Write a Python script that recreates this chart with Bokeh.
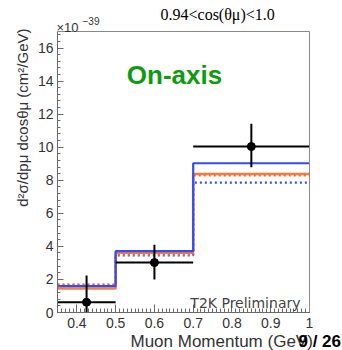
import math
from bokeh.plotting import figure
from bokeh.models import Range1d, FixedTicker, Label, LinearAxis
from bokeh.embed import file_html
from bokeh.resources import INLINE

# ---- data ----
bin_edges = [0.35, 0.5, 0.7, 1.0]
blue_solid = [1.60, 3.71, 9.03]
orange_solid = [1.45, 3.61, 8.38]
orange_dotted = [1.71, 3.50, 8.29]
blue_dotted = [1.65, 3.45, 7.86]
data_x = [0.425, 0.6, 0.85]
data_y = [0.62, 3.02, 10.04]
data_err_up = [1.62, 1.08, 1.38]
data_err_dn = [1.62, 1.02, 1.25]
x_ticks = [0.4, 0.5, 0.6, 0.7, 0.8, 0.9, 1.0]
x_tick_labels = ["0.4", "0.5", "0.6", "0.7", "0.8", "0.9", "1"]
y_ticks = [0, 2, 4, 6, 8, 10, 12, 14, 16]
x_lo, x_hi = 0.35, 1.0
y_lo, y_hi = 0.0, 17.0

# frame occupies page x 57..309, y 31..312 inside a 342x350 canvas
W, H = 342, 350
FL, FR, FT, FB = 57, 309, 31, 312
sx = (FR - FL) / (x_hi - x_lo)
sy = (FB - FT) / (y_hi - y_lo)
x_range = Range1d(x_lo - FL / sx, x_hi + (W - FR) / sx)
y_range = Range1d(y_lo - (H - FB) / sy, y_hi + FT / sy)

p = figure(width=W, height=H, output_backend="svg", toolbar_location=None,
           x_range=x_range, y_range=y_range, x_axis_location=None, y_axis_location=None,
           min_border=0)
p.background_fill_color = "white"
p.border_fill_color = "white"
p.outline_line_color = None
p.grid.visible = False

AX = "#6a6a6a"
minor_x = [round(0.35 + 0.01 * i, 2) for i in range(66)]
minor_y = [round(0.4 * i, 2) for i in range(43)]

xaxis = LinearAxis(fixed_location=y_lo, bounds=(x_lo, x_hi),
                   ticker=FixedTicker(ticks=x_ticks, minor_ticks=minor_x),
                   major_label_overrides={t: l for t, l in zip(x_ticks, x_tick_labels)})
yaxis = LinearAxis(fixed_location=x_lo, bounds=(y_lo, y_hi),
                   ticker=FixedTicker(ticks=y_ticks, minor_ticks=minor_y))
for ax in (xaxis, yaxis):
    ax.axis_line_color = AX
    ax.major_tick_line_color = AX
    ax.minor_tick_line_color = AX
    ax.major_tick_out = 0
    ax.minor_tick_out = 0
    ax.major_label_text_font = "Liberation Sans"
    ax.major_label_text_font_size = "14px"
    ax.major_label_text_color = "#333333"
xaxis.major_tick_in = 8
xaxis.minor_tick_in = 4
yaxis.major_tick_in = 6
yaxis.minor_tick_in = 3
xaxis.major_label_standoff = 5
yaxis.major_label_standoff = 4
p.add_layout(xaxis, "below")
p.add_layout(yaxis, "left")

# top and right frame edges
topaxis = LinearAxis(fixed_location=y_hi, bounds=(x_lo, x_hi), ticker=FixedTicker(ticks=[]),
                     major_label_text_font_size="0px", axis_line_color="#8a8a8a",
                     major_tick_line_color=None, minor_tick_line_color=None)
rightaxis = LinearAxis(fixed_location=x_hi, bounds=(y_lo, y_hi), ticker=FixedTicker(ticks=[]),
                       major_label_text_font_size="0px", axis_line_color="#8a8a8a",
                       major_tick_line_color=None, minor_tick_line_color=None)
p.add_layout(topaxis, "above")
p.add_layout(rightaxis, "right")

# histograms
def step_vals(v):
    return list(v) + [v[-1]]

p.step(bin_edges, step_vals(blue_dotted), mode="after", line_color="#2f4ff5",
       line_width=2.2, line_dash="2 3")
p.step(bin_edges, step_vals(orange_solid), mode="after", line_color="#ff7a3a", line_width=2.5)
p.step(bin_edges, step_vals(orange_dotted), mode="after", line_color="#f06a40",
       line_width=2.2, line_dash="2 3")
p.step(bin_edges, step_vals(blue_solid), mode="after", line_color="#2f4ff5", line_width=2.2)

# data points with errors (clipped at the frame bottom)
lefts = bin_edges[:-1]
rights = bin_edges[1:]
p.segment(x0=lefts, y0=data_y, x1=rights, y1=data_y, line_color="black", line_width=2)
p.segment(x0=data_x, y0=[max(y_lo, y - e) for y, e in zip(data_y, data_err_dn)],
          x1=data_x, y1=[min(y_hi, y + e) for y, e in zip(data_y, data_err_up)],
          line_color="black", line_width=2)
p.scatter(data_x, data_y, size=8, color="black")

def px(x):
    return x_lo + (x - FL) / sx

def py(y):
    return y_lo + (FB - y) / sy

# texts
p.add_layout(Label(x=px(300), y=py(302), text="T2K Preliminary", text_align="right",
                   text_baseline="alphabetic", text_font="DejaVu Sans",
                   text_font_size="14px", text_color="#444444"))
p.add_layout(Label(x=px(174), y=py(74), text="On-axis", text_align="center",
                   text_baseline="middle", text_font="Liberation Sans",
                   text_font_style="bold", text_font_size="26px", text_color="#0f9a0f"))
p.add_layout(Label(x=px(160), y=py(14), text="0.94<cos(θμ)<1.0", text_align="left",
                   text_baseline="middle", text_font="Liberation Serif",
                   text_font_size="16px", text_color="black"))
p.add_layout(Label(x=px(56), y=py(27), text="×10", text_align="left",
                   text_baseline="alphabetic", text_font="Liberation Sans",
                   text_font_size="13px", text_color="#333333"))
p.add_layout(Label(x=px(82), y=py(20), text="−39", text_align="left",
                   text_baseline="alphabetic", text_font="Liberation Sans",
                   text_font_size="10px", text_color="#333333"))
p.add_layout(Label(x=px(130), y=py(341), text="Muon Momentum (GeV)", text_align="left",
                   text_baseline="middle", text_font="Liberation Sans",
                   text_font_size="17px", text_color="#333333"))
p.add_layout(Label(x=px(22), y=py(28), text="d²σ/dpμ dcosθμ (cm²/GeV)", angle=math.pi / 2,
                   text_align="right", text_baseline="middle", text_font="Liberation Sans",
                   text_font_size="15px", text_color="#333333"))
p.add_layout(Label(x=px(298), y=py(341), text="9 / 26", text_align="left",
                   text_baseline="middle", text_font="Liberation Sans",
                   text_font_style="bold", text_font_size="17px", text_color="black"))

open("out.html", "w").write(file_html(p, INLINE))
